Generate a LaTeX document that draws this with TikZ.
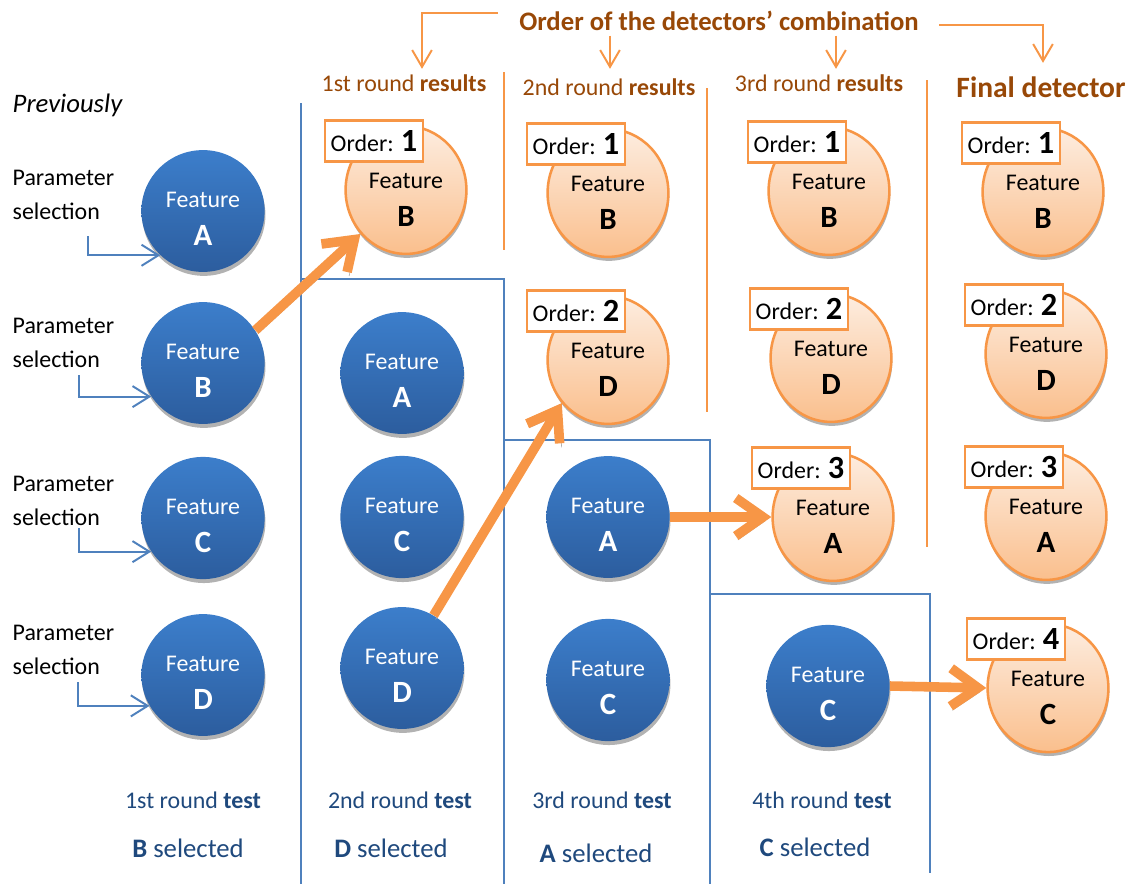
\documentclass[tikz,border=0pt]{standalone}
\usepackage{fontspec}
\setmainfont{Carlito}
\usepackage{xcolor}
\usetikzlibrary{shapes.geometric, arrows.meta, positioning, calc, shadows}

\definecolor{featblue}{RGB}{60,126,203}
\definecolor{featbluedark}{RGB}{44,93,158}
\definecolor{lineblue}{RGB}{79,129,189}
\definecolor{textblue}{RGB}{31,73,125}
\definecolor{accorange}{RGB}{247,150,70}
\definecolor{peachtop}{RGB}{253,237,224}
\definecolor{peachbot}{RGB}{250,191,141}
\definecolor{hdrbrown}{RGB}{152,72,7}

\newcommand{\feat}[1]{\raisebox{0pt}[\dimexpr\height+14pt\relax][\depth]{\begin{tabular}{@{}c@{}}Feature\\[7pt]{\fontsize{22}{24}\selectfont\bfseries #1}\end{tabular}}}
\newcommand{\ofeat}[1]{\raisebox{0pt}[\dimexpr\height+3pt\relax][\depth]{\feat{#1}}}
\newcommand{\ordtxt}[1]{Order: {\fontsize{23}{24}\selectfont\bfseries #1}}

\begin{document}
\begin{tikzpicture}[x=0.025cm, y=-0.025cm, font=\fontsize{17}{20}\selectfont, inner sep=1pt,
    bluefeat/.style={ellipse, minimum width=3.08cm, minimum height=2.85cm, inner sep=0pt, top color=featblue, bottom color=featbluedark, text=white, align=center, drop shadow={shadow xshift=0.6pt, shadow yshift=-2.8pt, fill=black!30, opacity=1}},
    orgfeat/.style={ellipse, minimum width=3.02cm, minimum height=2.8cm, inner sep=0pt, top color=peachtop, bottom color=peachbot, draw=accorange, line width=1.8pt, text=black, align=center, drop shadow={shadow xshift=0.6pt, shadow yshift=-2.8pt, fill=black!30, opacity=1}},
    orderbox/.style={rectangle, draw=accorange, line width=1.8pt, fill=white, minimum width=2.45cm, minimum height=1.02cm, inner sep=0pt},
    hdr/.style={text=hdrbrown},
    testlbl/.style={text=textblue},
    paramlbl/.style={anchor=west, align=left, font=\fontsize{17}{24}\selectfont},
    divblue/.style={draw=lineblue, line width=1.1pt},
    divorange/.style={draw=accorange, line width=1.1pt},
    hdrarrow/.style={draw=accorange, line width=1.4pt, -{Straight Barb[length=12pt, width=14pt]}},
    selarrow/.style={draw=lineblue, line width=1.4pt, -{Straight Barb[length=12pt, width=15pt]}},
    pickarrow/.style={draw=accorange, line width=6.8pt, -{Straight Barb[length=0.68cm, width=0.95cm]}, preaction={draw=black!35, transform canvas={shift={(2,4)}}}}
]
\useasboundingbox (0,0) rectangle (1140,884);

% Dividers between the rounds
\draw[divblue] (301,103) -- (301,884);
\draw[divblue] (301,279) -- (504,279) -- (504,884);
\draw[divblue] (504,440) -- (710,440) -- (710,884);
\draw[divblue] (710,594) -- (930,594) -- (930,873);
\draw[divorange] (504,72) -- (504,250);
\draw[divorange] (707,88) -- (707,412);
\draw[divorange] (927,80) -- (927,547);

% Title and column headers
\node (title) [hdr, font=\fontsize{19}{22}\selectfont\bfseries] at (719,21) {Order of the detectors' combination};
\node (h1) [hdr] at (404,83) {1st round \textbf{results}};
\node (h2) [hdr] at (609,87) {2nd round \textbf{results}};
\node (h3) [hdr] at (819,83) {3rd round \textbf{results}};
\node (h4) [hdr, font=\fontsize{21}{24}\selectfont\bfseries] at (1041,87) {Final detector};
\node (prev) [anchor=west, font=\fontsize{19}{22}\selectfont\itshape] at (11,105) {Previously};

% Column 1: parameter selection
\node (ps1) [paramlbl] at (11,195) {Parameter\\selection};
\node (ps2) [paramlbl] at (11,343) {Parameter\\selection};
\node (ps3) [paramlbl] at (11,501) {Parameter\\selection};
\node (ps4) [paramlbl] at (11,650) {Parameter\\selection};
\coordinate (s1) at (88,236);
\coordinate (s2) at (79,375);
\coordinate (s3) at (79,528);
\coordinate (s4) at (78,682);

% Tested features (blue)
\node (fA1) [bluefeat] at (203,211) {\feat{A}};
\node (fB1) [bluefeat] at (203,363) {\feat{B}};
\node (fC1) [bluefeat] at (203,518) {\feat{C}};
\node (fD1) [bluefeat] at (203,675) {\feat{D}};
\node (fA2) [bluefeat] at (402,373) {\feat{A}};
\node (fC2) [bluefeat] at (402,517) {\feat{C}};
\node (fD2) [bluefeat] at (402,668) {\feat{D}};
\node (fA3) [bluefeat] at (608,517) {\feat{A}};
\node (fC3) [bluefeat] at (608,680) {\feat{C}};
\node (fC4) [bluefeat] at (828,686) {\feat{C}};

% Results (orange) with their order
\node (r1B) [orgfeat] at (406,190) {\ofeat{B}};
\node (r2B) [orgfeat] at (608,193) {\ofeat{B}};
\node (r2D) [orgfeat] at (608,360) {\ofeat{D}};
\node (r3B) [orgfeat] at (829,191) {\ofeat{B}};
\node (r3D) [orgfeat] at (831,358) {\ofeat{D}};
\node (r3A) [orgfeat] at (833,517) {\ofeat{A}};
\node (r4B) [orgfeat] at (1043,192) {\ofeat{B}};
\node (r4D) [orgfeat] at (1046,354) {\ofeat{D}};
\node (r4A) [orgfeat] at (1046,516) {\ofeat{A}};
\node (r4C) [orgfeat] at (1048,688) {\ofeat{C}};

\node (o1B) [orderbox] at ($(r1B)+(-32,-49)$) {\ordtxt{1}};
\node (o2B) [orderbox] at ($(r2B)+(-32,-49)$) {\ordtxt{1}};
\node (o2D) [orderbox] at ($(r2D)+(-32,-49)$) {\ordtxt{2}};
\node (o3B) [orderbox] at ($(r3B)+(-32,-49)$) {\ordtxt{1}};
\node (o3D) [orderbox] at ($(r3D)+(-32,-49)$) {\ordtxt{2}};
\node (o3A) [orderbox] at ($(r3A)+(-32,-49)$) {\ordtxt{3}};
\node (o4B) [orderbox] at ($(r4B)+(-32,-49)$) {\ordtxt{1}};
\node (o4D) [orderbox] at ($(r4D)+(-32,-49)$) {\ordtxt{2}};
\node (o4A) [orderbox] at ($(r4A)+(-32,-49)$) {\ordtxt{3}};
\node (o4C) [orderbox] at ($(r4C)+(-32,-49)$) {\ordtxt{4}};

% Round labels
\node (t1) [testlbl] at (193,800) {1st round \textbf{test}};
\node (t2) [testlbl] at (400,800) {2nd round \textbf{test}};
\node (t3) [testlbl] at (602,800) {3rd round \textbf{test}};
\node (t4) [testlbl] at (822,800) {4th round \textbf{test}};
\node (sel1) [testlbl, font=\fontsize{19}{22}\selectfont] at (188,848) {\textbf{B} selected};
\node (sel2) [testlbl, font=\fontsize{19}{22}\selectfont] at (391,848) {\textbf{D} selected};
\node (sel3) [testlbl, font=\fontsize{19}{22}\selectfont] at (596,853) {\textbf{A} selected};
\node (sel4) [testlbl, font=\fontsize{19}{22}\selectfont] at (815,847) {\textbf{C} selected};

% Header arrows
\draw[hdrarrow] ($(title.west)+(-20,-8)$) -| ($(h1.north)+(18,-4)$);
\draw[hdrarrow] ($(title.south -| h2.north)+(1,3)$) -- ($(h2.north)+(1,-8)$);
\draw[hdrarrow] ($(title.south -| h3.north)+(17,3)$) -- ($(h3.north)+(17,-4)$);
\draw[hdrarrow] ($(title.east)+(19,4)$) -| ($(h4.north)+(2,-12)$);

% Parameter selection arrows
\draw[selarrow] (s1) |- (fA1.226);
\draw[selarrow] (s2) |- (fB1.213);
\draw[selarrow] (s3) |- (fC1.213);
\draw[selarrow] (s4) |- (fD1.210);

% Selected features move on
\draw[pickarrow] (fB1.32) -- (r1B.224);
\draw[pickarrow] (fD2.59) -- (r2D.223);
\draw[pickarrow] (fA3.east) -- (r3A.west);
\draw[pickarrow] (fC4.east) -- (r4C.west);

\end{tikzpicture}
\end{document}
